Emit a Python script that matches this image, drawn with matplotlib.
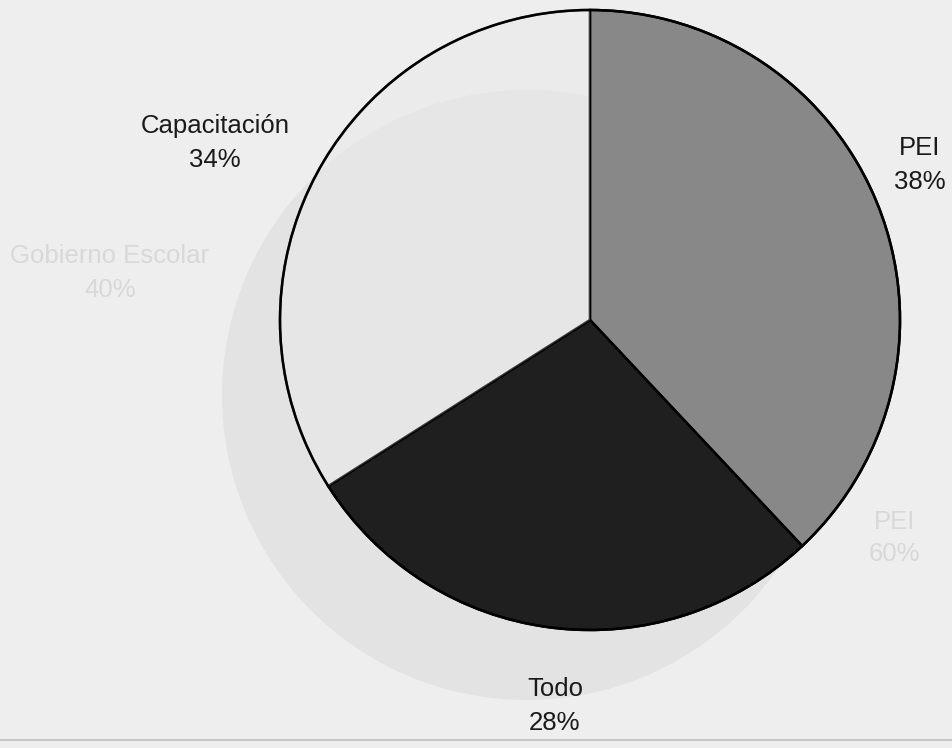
import matplotlib.pyplot as plt
from matplotlib.patches import Circle

# datos del grafico
labels = ["PEI", "Todo", "Capacitación"]
values = [38, 28, 34]
colors = ["#888888", "#1f1f1f", "#e9e9e9"]

# texto fantasma (traspaso de la otra cara de la hoja)
ghost_labels = ["Gobierno Escolar\n40%", "PEI\n60%"]

W, H = 952, 748
fig = plt.figure(figsize=(W / 100, H / 100), dpi=100)
fig.patch.set_facecolor("#eeeeee")
ax = fig.add_axes([0, 0, 1, 1])
ax.set_xlim(0, W)
ax.set_ylim(0, H)
ax.set_aspect("equal")
ax.axis("off")

plt.rcParams["font.family"] = ["Liberation Sans", "DejaVu Sans"]

# circulo fantasma de fondo
ax.add_patch(Circle((527, H - 395), 305, facecolor="#e3e3e3", edgecolor="none", zorder=0))
ax.text(110, H - 273, ghost_labels[0], ha="center", va="center", fontsize=18.5,
        color="#d8d8d8", linespacing=1.5, zorder=1)
ax.text(895, H - 538, ghost_labels[1], ha="center", va="center", fontsize=18.5,
        color="#d8d8d8", linespacing=1.4, zorder=1)

# pastel principal
wedges, _ = ax.pie(values, colors=colors, startangle=90, counterclock=False,
                   center=(590, H - 320), radius=310, frame=True,
                   wedgeprops=dict(edgecolor="black", linewidth=1.8))
for w in wedges:
    w.set_zorder(2)
wedges[2].set_alpha(0.55)
ax.add_patch(Circle((590, H - 320), 310, facecolor="none", edgecolor="black",
                    linewidth=1.8, zorder=3))
ax.set_xlim(0, W)
ax.set_ylim(0, H)
ax.axis("off")

# etiquetas
pos = [(920, H - 165), (555, H - 706), (215, H - 143)]
for lab, v, (x, y) in zip(labels, values, pos):
    ax.text(x, y, f"{lab}\n{v}%", ha="center", va="center", fontsize=18.5,
            color="#1a1a1a", linespacing=1.5, zorder=4)

# linea del borde inferior del escaneo
ax.plot([0, W], [H - 740, H - 740], color="#bdbdbd", linewidth=1.2, zorder=1)

fig.savefig("out.png", dpi=100, facecolor=fig.get_facecolor())
